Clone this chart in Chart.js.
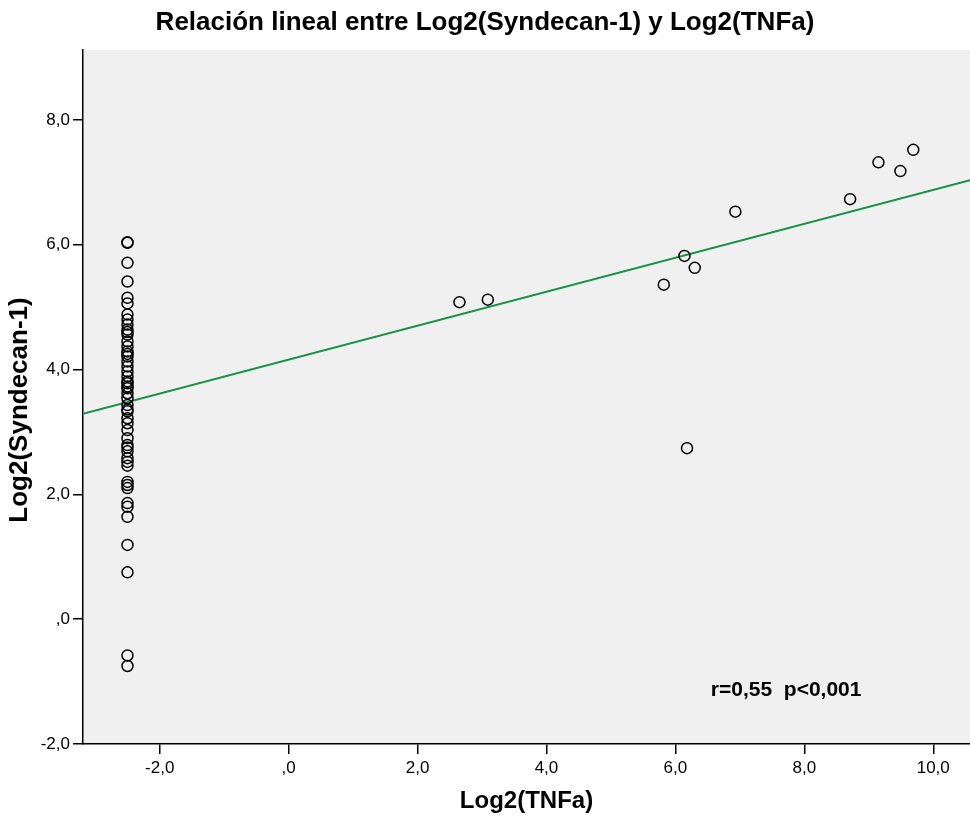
<!DOCTYPE html>
<html>
<head>
<meta charset="utf-8">
<script src="https://cdn.jsdelivr.net/npm/chart.js@4"></script>
<style>
  html, body { margin: 0; padding: 0; background: #fff; overflow: hidden; }
  canvas { display: block; }
</style>
</head>
<body>
<canvas id="scatter" width="970" height="819"></canvas>
<script>
// values
var clusterX = -2.5;
var clusterY = [6.04, 6.03, 5.71, 5.41, 5.15, 5.06, 4.88, 4.80, 4.72, 4.64, 4.60, 4.56,
  4.45, 4.37, 4.29, 4.25, 4.21, 4.13, 4.05, 3.97, 3.89, 3.81, 3.78, 3.73, 3.70, 3.62,
  3.54, 3.43, 3.36, 3.33, 3.22, 3.14, 3.03, 2.90, 2.79, 2.75, 2.69, 2.58, 2.52, 2.46,
  2.20, 2.15, 2.10, 1.86, 1.80, 1.64, 1.19, 0.75, -0.58, -0.75];
var otherX = [2.65, 3.09, 5.82, 6.14, 6.30, 6.93, 6.18, 8.71, 9.15, 9.49, 9.69];
var otherY = [5.08, 5.12, 5.36, 5.82, 5.63, 6.53, 2.74, 6.73, 7.32, 7.18, 7.52];
var fitIntercept = 4.16;
var fitSlope = 0.272;
var xTicks = [-2, 0, 2, 4, 6, 8, 10];
var yTicks = [-2, 0, 2, 4, 6, 8];
var xMin = -3.19, xMax = 10.57;
var yMin = -2, yMax = 9.12;

var points = [];
clusterY.forEach(function (y) { points.push({ x: clusterX, y: y }); });
otherX.forEach(function (x, i) { points.push({ x: x, y: otherY[i] }); });

var fitLine = [
  { x: xMin, y: fitIntercept + fitSlope * xMin },
  { x: xMax, y: fitIntercept + fitSlope * xMax }
];

function spss(v) {
  if (v === 0) return ',0';
  return v.toFixed(1).replace('.', ',');
}

// gray plot background, y title and the r / p note
var plotDecor = {
  id: 'plotDecor',
  beforeDraw: function (chart) {
    var a = chart.chartArea, ctx = chart.ctx;
    ctx.save();
    ctx.fillStyle = '#f0f0f0';
    ctx.fillRect(a.left, a.top, a.right - a.left, a.bottom - a.top);
    ctx.restore();
  },
  afterDraw: function (chart) {
    var ctx = chart.ctx;
    ctx.save();
    ctx.fillStyle = '#000';
    ctx.translate(20, 410);
    ctx.rotate(-Math.PI / 2);
    ctx.font = 'bold 26px "Liberation Sans", Arial, sans-serif';
    ctx.textAlign = 'center';
    ctx.textBaseline = 'middle';
    ctx.fillText('Log2(Syndecan-1)', 0, 0);
    ctx.restore();
  },
  afterDatasetsDraw: function (chart) {
    var ctx = chart.ctx;
    var px = chart.scales.x.getPixelForValue(6.55);
    var py = chart.scales.y.getPixelForValue(-1.14);
    ctx.save();
    ctx.fillStyle = '#000';
    ctx.font = 'bold 21px "Liberation Sans", Arial, sans-serif';
    ctx.textAlign = 'left';
    ctx.textBaseline = 'middle';
    ctx.fillText('r=0,55  p<0,001', px, py);
    ctx.restore();
  }
};

Chart.defaults.font.family = '"Liberation Sans", Arial, sans-serif';
Chart.defaults.color = '#000';

new Chart(document.getElementById('scatter'), {
  type: 'scatter',
  data: {
    datasets: [
      {
        type: 'line',
        data: fitLine,
        borderColor: '#1a9148',
        borderWidth: 2,
        pointRadius: 0,
        fill: false,
        order: 2
      },
      {
        data: points,
        pointRadius: 5.5,
        pointBorderWidth: 1.5,
        pointBorderColor: '#000',
        pointBackgroundColor: 'rgba(0,0,0,0)',
        order: 1
      }
    ]
  },
  options: {
    responsive: false,
    animation: false,
    layout: { padding: 0, autoPadding: false },
    plugins: {
      legend: { display: false },
      tooltip: { enabled: false },
      title: {
        display: true,
        text: 'Relación lineal entre Log2(Syndecan-1) y Log2(TNFa)',
        font: { size: 26, weight: 'bold' },
        color: '#000',
        padding: { top: 7, bottom: 11.8 }
      }
    },
    scales: {
      x: {
        type: 'linear',
        min: xMin,
        max: xMax,
        afterBuildTicks: function (s) { s.ticks = xTicks.map(function (v) { return { value: v }; }); },
        afterFit: function (s) { s.height = 75; s.paddingLeft = 0; s.paddingRight = 0; },
        ticks: { callback: spss, font: { size: 17 }, padding: 4, maxRotation: 0 },
        grid: { drawOnChartArea: false, tickLength: 10, color: '#000', lineWidth: 1.5 },
        border: { color: '#000', width: 1.5 },
        title: {
          display: true,
          text: 'Log2(TNFa)',
          font: { size: 24, weight: 'bold' },
          padding: { top: 0, bottom: 3 }
        }
      },
      y: {
        type: 'linear',
        min: yMin,
        max: yMax,
        afterBuildTicks: function (s) { s.ticks = yTicks.map(function (v) { return { value: v }; }); },
        afterFit: function (s) { s.width = 83; },
        ticks: { callback: spss, font: { size: 17 }, padding: 3 },
        grid: { drawOnChartArea: false, tickLength: 10, color: '#000', lineWidth: 1.5 },
        border: { color: '#000', width: 1.5 },
        title: { display: false }
      }
    }
  },
  plugins: [plotDecor]
});
</script>
</body>
</html>
